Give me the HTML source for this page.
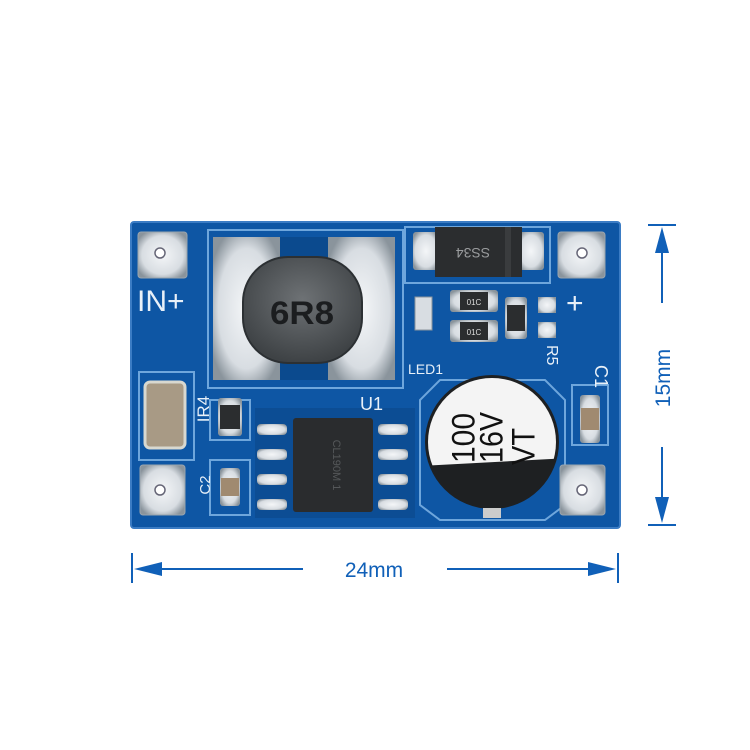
<!DOCTYPE html>
<html><head><meta charset="utf-8"><style>
html,body{margin:0;padding:0;background:#fff;width:750px;height:750px;overflow:hidden}
svg{display:block}
text{font-family:"Liberation Sans",sans-serif}
</style></head><body>
<svg width="750" height="750" viewBox="0 0 750 750" xmlns="http://www.w3.org/2000/svg">
<defs>
<radialGradient id="sil" cx="50%" cy="50%" r="60%"><stop offset="0" stop-color="#f4f6f8"/><stop offset="0.7" stop-color="#d8dde2"/><stop offset="1" stop-color="#8a949c"/></radialGradient>
<radialGradient id="ind" cx="50%" cy="40%" r="60%"><stop offset="0" stop-color="#6e7275"/><stop offset="1" stop-color="#3e4245"/></radialGradient>
</defs>
<rect x="131" y="222" width="489" height="306" rx="3" fill="#0e56a4"/>
<rect x="131" y="222" width="489" height="306" rx="3" fill="none" stroke="#3b7cc4" stroke-width="2"/>
<g fill="none" stroke="#6ea6dc" stroke-width="2">
<rect x="208" y="230" width="195" height="158"/>
<rect x="405" y="227" width="145" height="56"/>
<polygon points="440,380 545,380 565,400 565,505 545,520 440,520 420,505 420,400"/>
<rect x="210" y="400" width="40" height="40"/>
<rect x="210" y="460" width="40" height="55"/>
<rect x="572" y="385" width="36" height="60"/>
<rect x="139" y="372" width="55" height="88"/>
</g>
<rect x="255" y="408" width="160" height="110" fill="#0c4d94"/>
<g fill="url(#sil)" stroke="#9aa5ae">
<rect x="138" y="232" width="49" height="46" rx="3"/>
<rect x="558" y="232" width="47" height="46" rx="3"/>
<rect x="140" y="465" width="45" height="50" rx="3"/>
<rect x="560" y="465" width="45" height="50" rx="3"/>
</g>
<g fill="#fff" stroke="#667" stroke-width="1.5">
<circle cx="160" cy="253" r="5"/><circle cx="582" cy="253" r="5"/><circle cx="160" cy="490" r="5"/><circle cx="582" cy="490" r="5"/>
</g>
<rect x="213" y="237" width="67" height="143" fill="url(#sil)"/>
<rect x="328" y="237" width="67" height="143" fill="url(#sil)"/>
<rect x="280" y="237" width="48" height="143" fill="#0b4a8e"/>
<rect x="243" y="257" width="119" height="106" rx="45" fill="url(#ind)" stroke="#2c3033" stroke-width="2"/>
<text x="302" y="324" font-size="32" text-anchor="middle" fill="#1b1d1f" font-weight="bold" textLength="64" lengthAdjust="spacingAndGlyphs">6R8</text>
<rect x="413" y="232" width="26" height="38" rx="3" fill="url(#sil)"/>
<rect x="518" y="232" width="26" height="38" rx="3" fill="url(#sil)"/>
<rect x="435" y="227" width="87" height="50" fill="#2b2d2f"/>
<rect x="505" y="227" width="6" height="50" fill="#3a3c3e"/>
<text x="473" y="258" font-size="14" fill="#9a9c9e" text-anchor="middle" transform="rotate(180 473 253)">SS34</text>
<rect x="415" y="297" width="17" height="33" fill="#d8dde2" stroke="#8a949c"/>
<g>
<rect x="450" y="290" width="48" height="22" rx="3" fill="url(#sil)"/><rect x="460" y="292" width="28" height="18" fill="#2b2d2f"/>
<rect x="450" y="320" width="48" height="22" rx="3" fill="url(#sil)"/><rect x="460" y="322" width="28" height="18" fill="#2b2d2f"/>
<text x="474" y="305" font-size="8" fill="#ddd" text-anchor="middle">01C</text>
<text x="474" y="335" font-size="8" fill="#ddd" text-anchor="middle">01C</text>
<rect x="505" y="297" width="22" height="42" rx="3" fill="url(#sil)"/><rect x="507" y="305" width="18" height="26" fill="#2b2d2f"/>
<rect x="538" y="297" width="18" height="16" fill="url(#sil)"/><rect x="538" y="322" width="18" height="16" fill="url(#sil)"/>
<rect x="218" y="398" width="24" height="38" rx="3" fill="url(#sil)"/><rect x="220" y="405" width="20" height="24" fill="#2b2d2f"/>
<rect x="220" y="468" width="20" height="38" rx="3" fill="url(#sil)"/><rect x="221" y="478" width="18" height="18" fill="#a08a70"/>
<rect x="580" y="395" width="20" height="48" rx="3" fill="url(#sil)"/><rect x="581" y="408" width="18" height="22" fill="#a08a70"/>
</g>
<rect x="145" y="382" width="40" height="66" rx="5" fill="#a89a85" stroke="#d8d8d0" stroke-width="3"/>
<g fill="url(#sil)">
<rect x="257" y="424" width="30" height="11" rx="4"/><rect x="257" y="449" width="30" height="11" rx="4"/><rect x="257" y="474" width="30" height="11" rx="4"/><rect x="257" y="499" width="30" height="11" rx="4"/>
<rect x="378" y="424" width="30" height="11" rx="4"/><rect x="378" y="449" width="30" height="11" rx="4"/><rect x="378" y="474" width="30" height="11" rx="4"/><rect x="378" y="499" width="30" height="11" rx="4"/>
</g>
<rect x="293" y="418" width="80" height="94" rx="3" fill="#2a2c2e"/>
<text x="333" y="465" font-size="11" fill="#55585a" text-anchor="middle" transform="rotate(90 333 465)">CL190M 1</text>
<circle cx="492" cy="442" r="67" fill="#1e2022"/>
<clipPath id="cc"><polygon points="420,370 570,370 570,458 420,466"/></clipPath>
<circle cx="492" cy="442" r="64" fill="#f4f4f4" clip-path="url(#cc)"/>
<rect x="483" y="508" width="18" height="10" fill="#ccc"/>
<g fill="#111" font-size="32">
<text x="0" y="11.5" transform="translate(463,463) rotate(-90)" textLength="50" lengthAdjust="spacingAndGlyphs">100</text>
<text x="0" y="11.5" transform="translate(491,463) rotate(-90)" textLength="51" lengthAdjust="spacingAndGlyphs">16V</text>
<text x="0" y="11.5" transform="translate(523,465) rotate(-90)" textLength="37" lengthAdjust="spacingAndGlyphs">VT</text>
</g>
<g fill="#e8f0f8">
<text x="137" y="311" font-size="30" font-family="Liberation Serif">IN+</text>
<text x="566" y="313" font-size="30">+</text>
<text x="408" y="374" font-size="14">LED1</text>
<text x="360" y="410" font-size="18">U1</text>
<text x="595" y="365" font-size="18" transform="rotate(90 595 365)">C1</text>
<text x="547" y="345" font-size="16" transform="rotate(90 547 345)">R5</text>
<text x="209" y="421" font-size="17" text-anchor="middle" transform="rotate(-90 203 415)">IR4</text>
<text x="210" y="495" font-size="15" text-anchor="middle" transform="rotate(-90 205 490)">C2</text>
</g>
<g stroke="#1060b8" stroke-width="2" fill="#1060b8">
<line x1="132" y1="553" x2="132" y2="583"/><line x1="618" y1="553" x2="618" y2="583"/>
<line x1="140" y1="569" x2="303" y2="569"/><line x1="447" y1="569" x2="610" y2="569"/>
<polygon points="134,569 162,562 162,576" stroke="none"/>
<polygon points="616,569 588,562 588,576" stroke="none"/>
<line x1="648" y1="225" x2="676" y2="225"/><line x1="648" y1="525" x2="676" y2="525"/>
<line x1="662" y1="232" x2="662" y2="303"/><line x1="662" y1="447" x2="662" y2="518"/>
<polygon points="662,227 655,253 669,253" stroke="none"/>
<polygon points="662,523 655,497 669,497" stroke="none"/>
</g>
<text x="374" y="577" font-size="21" fill="#1060b8" text-anchor="middle">24mm</text>
<text x="670" y="378" font-size="21" fill="#1060b8" text-anchor="middle" transform="rotate(-90 670 378)">15mm</text>
</svg>
</body></html>
